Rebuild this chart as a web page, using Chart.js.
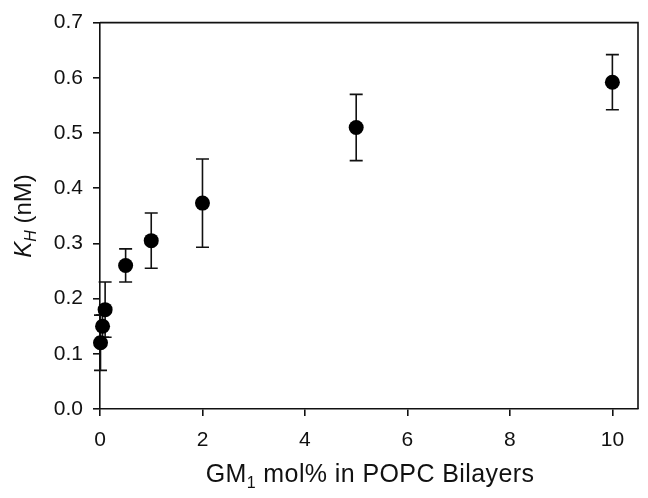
<!DOCTYPE html>
<html>
<head>
<meta charset="utf-8">
<script src="https://cdn.jsdelivr.net/npm/chart.js@4.4.1/dist/chart.umd.min.js"></script>
<style>
html,body{margin:0;padding:0;background:#fff;}
#wrap{width:648px;height:498px;}
</style>
</head>
<body>
<div id="wrap"><canvas id="c" width="648" height="498"></canvas></div>
<script>
// ---- data ----
const gm1MolPercent = [0.01, 0.05, 0.1, 0.5, 1, 2, 5, 10];
const kH = [0.12, 0.15, 0.18, 0.26, 0.305, 0.373, 0.51, 0.592];
const kHError = [0.05, 0.02, 0.05, 0.03, 0.05, 0.08, 0.06, 0.05];
const xTickValues = [0, 2, 4, 6, 8, 10];
const xTickLabels = ['0', '2', '4', '6', '8', '10'];
const yTickValues = [0, 0.1, 0.2, 0.3, 0.4, 0.5, 0.6, 0.7];
const yTickLabels = ['0.0', '0.1', '0.2', '0.3', '0.4', '0.5', '0.6', '0.7'];

const FONT = '"Liberation Sans", Arial, sans-serif';
const INK = '#111';

const points = gm1MolPercent.map((x, i) => ({x: x, y: kH[i]}));

const errorBarPlugin = {
  id: 'errorBars',
  beforeDatasetsDraw(chart) {
    const ctx = chart.ctx;
    const xs = chart.scales.x, ys = chart.scales.y;
    ctx.save();
    ctx.strokeStyle = INK;
    ctx.lineWidth = 1.6;
    const cap = 6.5;
    gm1MolPercent.forEach((x, i) => {
      const px = xs.getPixelForValue(x);
      const top = ys.getPixelForValue(kH[i] + kHError[i]);
      const bot = ys.getPixelForValue(kH[i] - kHError[i]);
      ctx.beginPath();
      ctx.moveTo(px, top); ctx.lineTo(px, bot);
      ctx.moveTo(px - cap, top); ctx.lineTo(px + cap, top);
      ctx.moveTo(px - cap, bot); ctx.lineTo(px + cap, bot);
      ctx.stroke();
    });
    ctx.restore();
  }
};

const framePlugin = {
  id: 'frame',
  afterDraw(chart) {
    const ctx = chart.ctx, a = chart.chartArea;
    ctx.save();
    ctx.strokeStyle = INK;
    ctx.lineWidth = 1.6;
    ctx.beginPath();
    ctx.moveTo(a.left, a.top); ctx.lineTo(a.right, a.top); ctx.lineTo(a.right, a.bottom);
    ctx.stroke();

    // x-axis title with subscript
    ctx.fillStyle = INK;
    ctx.textBaseline = 'alphabetic';
    try { ctx.letterSpacing = '0.4px'; } catch (e) {}
    const big = '25px ' + FONT, small = '16px ' + FONT;
    const parts = [['GM', big, 0], ['1', small, 6], [' mol% in POPC Bilayers', big, 0]];
    let total = 0;
    parts.forEach(p => { ctx.font = p[1]; total += ctx.measureText(p[0]).width; });
    let x = 370 - total / 2;
    const yBase = 482;
    parts.forEach(p => {
      ctx.font = p[1];
      ctx.textAlign = 'left';
      ctx.fillText(p[0], x, yBase + p[2]);
      x += ctx.measureText(p[0]).width;
    });
    try { ctx.letterSpacing = '0px'; } catch (e) {}

    // y-axis title rotated: K_H (nM)
    ctx.translate(31, 216);
    ctx.rotate(-Math.PI / 2);
    const yparts = [['K', 'italic 24px ' + FONT, 0], ['H', 'italic 16px ' + FONT, 5], [' (nM)', '24px ' + FONT, 0]];
    total = 0;
    yparts.forEach(p => { ctx.font = p[1]; total += ctx.measureText(p[0]).width; });
    x = -total / 2;
    yparts.forEach(p => {
      ctx.font = p[1];
      ctx.fillText(p[0], x, p[2]);
      x += ctx.measureText(p[0]).width;
    });
    ctx.restore();
  }
};

new Chart(document.getElementById('c'), {
  type: 'scatter',
  data: {
    datasets: [{
      data: points,
      pointRadius: 7.5,
      pointHoverRadius: 7.5,
      pointBackgroundColor: '#000',
      pointBorderWidth: 0,
      borderWidth: 0,
      clip: false
    }]
  },
  options: {
    responsive: false,
    animation: false,
    events: [],
    layout: { padding: { top: 17, right: 10, left: 0, bottom: 0 } },
    plugins: { legend: { display: false }, tooltip: { enabled: false } },
    scales: {
      x: {
        type: 'linear',
        min: 0, max: 10.5,
        afterFit(s) { s.height = 89; },
        afterBuildTicks(s) { s.ticks = xTickValues.map(v => ({value: v})); },
        ticks: {
          font: { family: FONT, size: 21 },
          color: INK,
          padding: 12,
          maxRotation: 0,
          callback: (v) => { const i = xTickValues.indexOf(v); return i >= 0 ? xTickLabels[i] : ''; }
        },
        grid: { drawOnChartArea: false, drawTicks: true, tickLength: 7, color: INK, lineWidth: 1.6 },
        border: { display: true, color: INK, width: 1.6 }
      },
      y: {
        type: 'linear',
        min: 0, max: 0.7,
        afterFit(s) { s.width = 100; },
        afterBuildTicks(s) { s.ticks = yTickValues.map(v => ({value: v})); },
        ticks: {
          font: { family: FONT, size: 21 },
          color: INK,
          padding: 10,
          callback: (v) => { const i = yTickValues.findIndex(t => Math.abs(t - v) < 1e-9); return i >= 0 ? yTickLabels[i] : ''; }
        },
        grid: { drawOnChartArea: false, drawTicks: true, tickLength: 7, color: INK, lineWidth: 1.6 },
        border: { display: true, color: INK, width: 1.6 }
      }
    }
  },
  plugins: [errorBarPlugin, framePlugin]
});
</script>
</body>
</html>
